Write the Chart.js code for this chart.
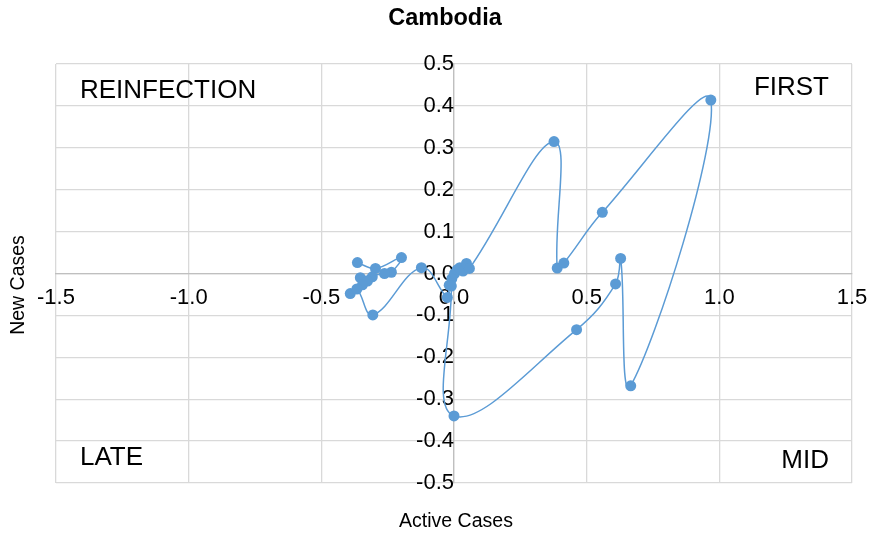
<!DOCTYPE html>
<html>
<head>
<meta charset="utf-8">
<script src="https://cdn.jsdelivr.net/npm/chart.js@4.4.1/dist/chart.umd.min.js"></script>
<style>
  html, body { margin: 0; padding: 0; background: #fff; }
  #wrap { width: 875px; height: 541px; }
</style>
</head>
<body>
<div id="wrap"><canvas id="myChart" width="875" height="541"></canvas></div>
<script>
// data, in path order
var activeCases = [
  -0.364, -0.296, -0.198, -0.236, -0.262, -0.353, -0.308, -0.326, -0.345, -0.391, -0.366, -0.306,
  -0.123, -0.025,
  -0.018, -0.008, 0.002, 0.012, 0.022, 0.034, 0.047, 0.058,
  0.377, 0.389, 0.414, 0.559, 0.968, 0.666, 0.628, 0.609, 0.462, 0.000, -0.010
];
var newCases = [
  0.026, 0.012, 0.038, 0.003, 0.000, -0.010, -0.008, -0.018, -0.027, -0.048, -0.037, -0.099,
  0.014, -0.057,
  -0.028, -0.012, 0.000, 0.009, 0.014, 0.006, 0.024, 0.012,
  0.315, 0.013, 0.025, 0.146, 0.414, -0.268, 0.036, -0.025, -0.134, -0.340, -0.030
];
var quadrants = ['REINFECTION', 'FIRST', 'LATE', 'MID'];

var points = activeCases.map(function(x, i) {
  return { x: x, y: newCases[i] };
});

var blue = '#5B9BD5';
var font = 'Arial, "Liberation Sans", sans-serif';

// title, axis titles and quadrant names
var textPlugin = {
  id: 'texts',
  afterDraw: function(chart) {
    var ctx = chart.ctx;
    ctx.save();
    ctx.fillStyle = '#000';
    ctx.textBaseline = 'middle';

    ctx.font = 'bold 23.5px ' + font;
    ctx.textAlign = 'center';
    ctx.fillText('Cambodia', 445, 19);

    ctx.font = '19.5px ' + font;
    ctx.fillText('Active Cases', 456, 522);
    ctx.save();
    ctx.translate(19, 285);
    ctx.rotate(-Math.PI / 2);
    ctx.fillText('New Cases', 0, 0);
    ctx.restore();

    ctx.font = '26px ' + font;
    ctx.textAlign = 'left';
    ctx.fillText(quadrants[0], 80, 91);
    ctx.fillText(quadrants[2], 80, 458);
    ctx.textAlign = 'right';
    ctx.fillText(quadrants[1], 829, 88);
    ctx.fillText(quadrants[3], 829, 461);
    ctx.restore();
  }
};

new Chart(document.getElementById('myChart').getContext('2d'), {
  type: 'scatter',
  data: {
    datasets: [{
      data: points,
      showLine: true,
      tension: 0.4,
      borderColor: blue,
      borderWidth: 1.5,
      backgroundColor: blue,
      pointRadius: 5.5,
      pointHoverRadius: 5.5,
      pointBorderWidth: 0
    }]
  },
  options: {
    responsive: false,
    animation: false,
    layout: {
      padding: { left: 56, right: 23, top: 64, bottom: 58 }
    },
    plugins: {
      legend: { display: false },
      title: { display: false },
      tooltip: { enabled: false }
    },
    scales: {
      x: {
        type: 'linear',
        min: -1.5,
        max: 1.5,
        position: { y: 0 },
        ticks: {
          stepSize: 0.5,
          padding: 7,
          color: '#000',
          font: { size: 22, family: font, lineHeight: 1.6 },
          maxRotation: 0,
          callback: function(v) { return v.toFixed(1); }
        },
        grid: { color: '#d9d9d9', lineWidth: 1.3, drawTicks: false },
        border: { display: true, color: '#bfbfbf', width: 1.3 }
      },
      y: {
        type: 'linear',
        min: -0.5,
        max: 0.5,
        position: { x: 0 },
        ticks: {
          stepSize: 0.1,
          padding: 5,
          color: '#000',
          font: { size: 22, family: font },
          callback: function(v) { return v.toFixed(1); }
        },
        grid: { color: '#d9d9d9', lineWidth: 1.3, drawTicks: false },
        border: { display: true, color: '#bfbfbf', width: 1.3 }
      }
    }
  },
  plugins: [textPlugin]
});
</script>
</body>
</html>
